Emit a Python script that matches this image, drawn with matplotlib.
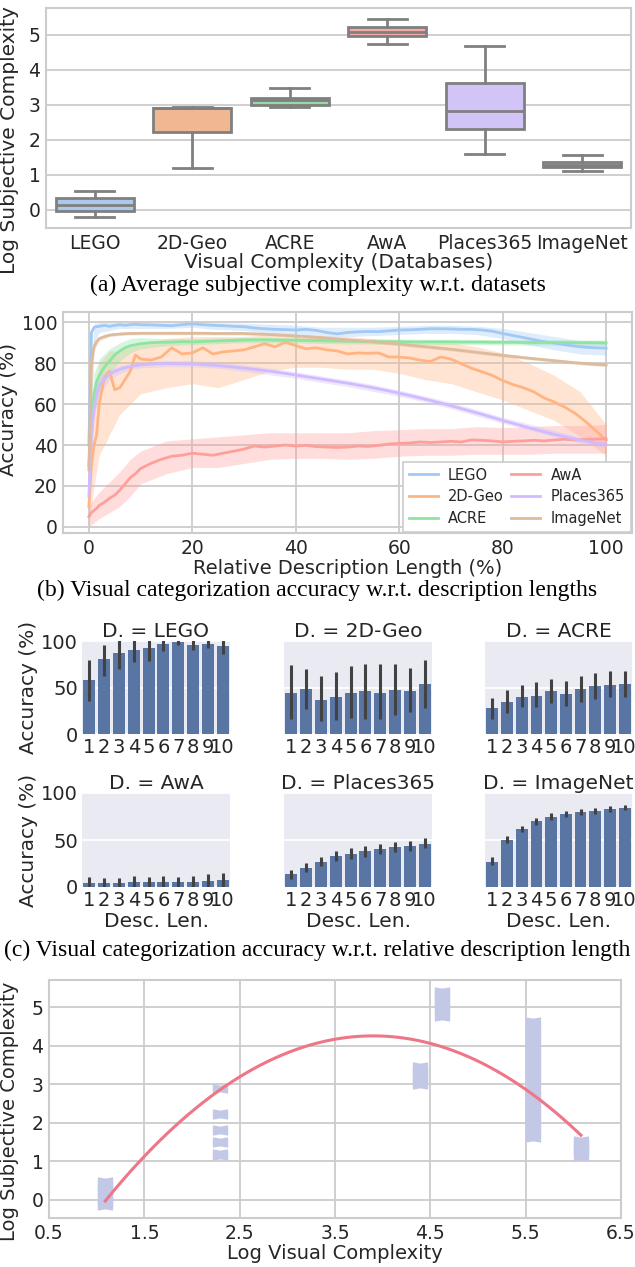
import numpy as np
import matplotlib
matplotlib.use("Agg")
import matplotlib.pyplot as plt
import seaborn as sns
from matplotlib.path import Path

# ---------------------------------------------------------------- data
datasets = ["LEGO", "2D-Geo", "ACRE", "AwA", "Places365", "ImageNet"]

# (a) box statistics of log subjective complexity per dataset
box_whislo = [-0.20, 1.19, 2.95, 4.75, 1.60, 1.11]
box_q1 = [-0.02, 2.22, 3.00, 4.98, 2.31, 1.21]
box_med = [0.14, 2.90, 3.14, 5.07, 2.83, 1.29]
box_q3 = [0.33, 2.92, 3.20, 5.23, 3.63, 1.37]
box_whishi = [0.54, 2.95, 3.48, 5.46, 4.67, 1.56]

# (b) accuracy vs. relative description length
rel_len = [0, 0.5, 1, 1.5, 2, 3, 4, 5, 6, 7, 8, 9, 10, 12, 14, 16, 18, 20,
           22, 24, 26, 28, 30, 32, 34, 36, 38, 40, 42, 44, 46, 48, 50, 52,
           54, 56, 58, 60, 62, 64, 66, 68, 70, 72, 74, 76, 78, 80, 82, 84,
           86, 88, 90, 92, 94, 96, 98, 100]
acc_lego = [40, 95, 97.5, 97.8, 98, 98.5, 98, 98.5, 98.8, 98.5, 98.8, 99,
            98.8, 98.7, 98.5, 98.3, 98.8, 99.2, 98.8, 98.5, 98.3, 98, 97.8,
            97.2, 96.8, 96.5, 96.4, 96.2, 96.5, 96, 95, 94.3, 95, 95.3, 95.5,
            95.4, 95.8, 96.2, 96.3, 96.5, 96.8, 96.8, 96.7, 96.5, 96.5, 96.2,
            95.6, 94.5, 93.5, 92.5, 91.5, 90.5, 89.8, 89, 88.3, 87.8, 87.5,
            87.3]
acc_2dgeo = [10, 30, 40, 45, 60, 73, 76, 67, 68, 72, 76, 84, 82, 81.5, 83,
             87.5, 84.5, 85, 87.5, 84.5, 85.5, 86, 86.5, 88, 89.5, 88, 90.2,
             88.6, 87, 87.5, 86.5, 86, 84.5, 85, 84.8, 85, 83, 83, 82.5, 81.5,
             80.8, 83, 82, 79.7, 77.5, 75.8, 74, 71.5, 69.5, 68, 66, 63, 61,
             58.5, 55.5, 51.5, 47, 42.3]
acc_acre = [30, 55, 65, 71, 74, 78, 81, 84, 86, 87.5, 88.5, 89, 89.5, 90,
            90.2, 90.3, 90.5, 90.4, 90.6, 90.8, 91, 91.1, 91.3, 91.4, 91.4,
            91.3, 91.2, 91.2, 91.1, 91, 90.9, 90.8, 90.7, 90.6, 90.6, 90.5,
            90.5, 90.5, 90.4, 90.4, 90.4, 90.4, 90.4, 90.3, 90.3, 90.3, 90.2,
            90.2, 90.2, 90.1, 90.1, 90.1, 90.1, 90, 90, 90, 90, 89.9]
acc_awa = [5, 7, 8, 9, 10.5, 12, 14, 15.5, 18, 21, 24, 26, 28.5, 31, 33,
           34.5, 35, 36, 35.5, 35, 36, 37, 38, 39.5, 39, 39.5, 40, 39.5, 39.8,
           39.2, 39, 38.8, 39, 39.5, 39.3, 39.8, 40.5, 40.8, 41, 41.5, 41.2,
           41.5, 41.8, 41.5, 42.5, 42.3, 42, 41.5, 41.8, 42, 42.3, 42, 42.5,
           42.8, 42.5, 42.7, 42.9, 43]
acc_places = [15, 45, 58, 65, 69, 72.5, 74.5, 76, 77, 77.8, 78.3, 78.8,
              79.2, 79.6, 79.8, 79.8, 79.7, 79.6, 79.3, 79, 78.6, 78.1, 77.6,
              77, 76.4, 75.7, 75, 74.2, 73.4, 72.6, 71.8, 71, 70.2, 69.3,
              68.4, 67.4, 66.4, 65.3, 64.2, 63, 61.8, 60.5, 59.2, 57.8, 56.4,
              55, 53.5, 52, 50.6, 49.2, 47.8, 46.5, 45.2, 44, 42.9, 41.9, 41,
              40.3]
acc_imagenet = [28, 80, 88, 90.5, 92, 93, 93.7, 94, 94.2, 94.4, 94.5, 94.5,
                94.6, 94.6, 94.6, 94.6, 94.6, 94.6, 94.6, 94.5, 94.5, 94.5,
                94.5, 94.3, 94.1, 93.9, 93.6, 93.3, 93, 92.6, 92.2, 91.8, 91.4,
                91, 90.6, 90.2, 89.8, 89.3, 88.8, 88.3, 87.8, 87.3, 86.8, 86.2,
                85.6, 85, 84.4, 83.8, 83.3, 82.7, 82.2, 81.7, 81.2, 80.7, 80.2,
                79.8, 79.4, 79.1]

# confidence bands (lower / upper) on a coarser length grid
band_len = [0, 1, 2, 4, 6, 8, 10, 15, 20, 25, 30, 35, 40, 45, 50, 55, 60, 65,
            70, 75, 80, 85, 90, 95, 100]
lo_lego = [20, 90, 95, 96, 97, 97, 97, 97, 97.5, 96.5, 96, 94.5, 94, 93, 93,
           93.5, 94, 94.5, 94.5, 94, 92, 89, 86.5, 84.5, 84]
hi_lego = [60, 99.5, 99.8, 99.8, 99.8, 99.8, 99.8, 99.8, 100, 99.8, 99.5, 99,
           98.5, 97.5, 97.5, 97.5, 98, 98.5, 98.5, 98, 97, 95, 93, 91, 90.5]
lo_2dgeo = [0, 20, 35, 45, 55, 60, 65, 68, 70, 68, 72, 76, 78, 78, 77, 77,
            75, 72, 70, 66, 62, 57, 52, 44, 35]
hi_2dgeo = [30, 60, 80, 86, 86, 88, 89, 92, 93, 93, 93, 94, 94, 93.5, 93, 92,
            91, 90, 90, 88, 85, 80, 74, 66, 50]
lo_acre = [20, 55, 66, 75, 81, 85, 87, 88.5, 89, 89.5, 90, 90, 89.9, 89.6,
           89.4, 89.3, 89.2, 89.1, 89.1, 89, 88.9, 88.8, 88.8, 88.7, 88.6]
hi_acre = [40, 75, 82, 87, 90, 92, 92.5, 92, 92, 92.3, 92.6, 92.6, 92.5,
           92.2, 92, 91.9, 91.8, 91.7, 91.7, 91.6, 91.5, 91.4, 91.4, 91.3,
           91.3]
lo_awa = [0, 2, 4, 7, 10, 15, 21, 26, 29, 29, 31, 33, 33.5, 33.5, 33, 33.5,
          34.5, 35, 35, 35.5, 35.5, 35.5, 36, 36, 36]
hi_awa = [10, 14, 17, 22, 27, 33, 37, 42, 43, 44, 45, 46, 46, 46, 46, 47,
          47.5, 48, 48, 49, 48.5, 49, 49.5, 49.5, 50]
lo_places = [10, 53, 64, 72, 75, 76.8, 77.7, 78.3, 78.2, 77.5, 76, 74.3,
             72.6, 70.5, 68.6, 66.2, 63.8, 61, 57.8, 54.2, 50.6, 47.4, 44,
             40.8, 38.8]
hi_places = [20, 63, 74, 77, 79, 79.8, 80.7, 81.3, 81.2, 80.5, 79.2, 77.6,
             75.8, 73.7, 71.8, 69.5, 66.8, 64, 60.8, 57.3, 53.6, 50.4, 47.1,
             43.8, 41.8]
lo_imagenet = [20, 86, 91, 93, 93.5, 93.8, 93.9, 93.9, 93.9, 93.8, 93.8,
               93.3, 92.6, 91.6, 90.6, 89.6, 88.5, 87.2, 86, 84.5, 83, 81.7,
               80.4, 79.2, 78.3]
hi_imagenet = [36, 90, 93, 94.4, 94.9, 95.2, 95.3, 95.3, 95.3, 95.2, 95.2,
               94.7, 94, 93.2, 92.2, 91.2, 90.1, 88.8, 87.6, 86.1, 84.6, 83.3,
               82, 80.8, 79.9]

# (c) accuracy per description length bucket (mean, CI low, CI high)
desc_len = list(range(1, 11))
bar_mean = {
    "LEGO": [58.6, 80.7, 87, 90, 92.5, 96.4, 98.6, 95.7, 97.1, 94.6],
    "2D-Geo": [43.6, 48.6, 36.8, 40, 44.3, 45.7, 44.6, 47.5, 46, 54],
    "ACRE": [27.5, 34.3, 39.6, 41, 46, 42.9, 48.6, 51.4, 52.5, 53.6],
    "AwA": [4.6, 3.9, 4.3, 5.4, 5.4, 5.7, 5.4, 5.4, 6.4, 7.1],
    "Places365": [13.6, 20.7, 27, 33.2, 35, 37.9, 40.4, 42.1, 43.6, 46],
    "ImageNet": [27, 50.4, 61.8, 70, 75, 77.5, 79.6, 81, 82.5, 83.6],
}
bar_lo = {
    "LEGO": [35.7, 62, 70, 77, 79, 89, 96, 90, 93, 86],
    "2D-Geo": [15.7, 26.4, 14.3, 15, 16.8, 15.7, 15.7, 20, 24, 27.5],
    "ACRE": [15.7, 23, 28.6, 28.6, 33.6, 30, 34.6, 37.5, 39.3, 40],
    "AwA": [0, 0, 0, 0, 0, 0, 0, 0, 0, 0],
    "Places365": [8.9, 16.4, 22, 27.9, 29.6, 32, 35, 36.8, 38.6, 41.8],
    "ImageNet": [23.6, 46.4, 59, 66.4, 71.4, 74.3, 76.8, 77.9, 79.3, 81.4],
}
bar_hi = {
    "LEGO": [80, 96, 101, 101, 101, 101, 101, 101, 101, 101],
    "2D-Geo": [74, 70, 62, 66.8, 73.6, 75.7, 75.7, 75.7, 71.4, 80],
    "ACRE": [39, 47, 53, 55.7, 59.6, 56.8, 62.5, 65.4, 67.5, 67.9],
    "AwA": [10.7, 9.6, 10, 11.8, 11, 11.8, 11, 11.4, 13.6, 15.4],
    "Places365": [17.9, 25.4, 32, 38.6, 41, 43.6, 45.7, 47.5, 49.3, 51.8],
    "ImageNet": [31.4, 54.6, 65.4, 73.6, 79, 80.7, 83.2, 84.3, 85.7, 87.5],
}

# (d) log visual complexity vs. log subjective complexity
log_visual = [1.09, 2.29, 4.39, 4.62, 5.58, 6.08]
log_subjective = {
    "LEGO": [-0.16, -0.1, -0.04, 0.02, 0.08, 0.14, 0.2, 0.26, 0.32, 0.38,
             0.44, 0.5],
    "2D-Geo": [1.13, 1.18, 1.22, 1.47, 1.53, 1.79, 1.83, 2.2, 2.25, 2.88,
               2.91],
    "ACRE": [2.98, 3.04, 3.1, 3.16, 3.22, 3.28, 3.34, 3.4, 3.47],
    "AwA": [4.75, 4.82, 4.9, 4.97, 5.04, 5.1, 5.17, 5.24, 5.31, 5.37, 5.41],
    "Places365": [1.61, 1.7, 1.8, 1.9, 2.0, 2.1, 2.2, 2.3, 2.4, 2.5, 2.6,
                  2.7, 2.8, 2.9, 3.0, 3.1, 3.2, 3.3, 3.4, 3.5, 3.6, 3.7, 3.8,
                  3.9, 4.0, 4.1, 4.2, 4.3, 4.4, 4.5, 4.63],
    "ImageNet": [1.12, 1.18, 1.24, 1.3, 1.36, 1.42, 1.48, 1.56],
}
# quadratic trend (highest power first)
trend_coef = [-0.542, 4.228, -3.994]

captions = [
    "(a) Average subjective complexity w.r.t. datasets",
    "(b) Visual categorization accuracy w.r.t. description lengths",
    "(c) Visual categorization accuracy w.r.t. relative description length",
]

# ---------------------------------------------------------------- style
TXT = "0.15"
GRID = "0.8"
plt.rcParams.update({
    "font.family": ["DejaVu Sans"],
    "text.color": TXT,
    "axes.labelcolor": TXT,
    "xtick.color": TXT,
    "ytick.color": TXT,
    "xtick.major.size": 0,
    "ytick.major.size": 0,
    "xtick.major.pad": 4,
    "ytick.major.pad": 4,
})
pastel = sns.color_palette("pastel", 6)
deep_blue = sns.color_palette("deep")[0]

W, H = 635, 1267
fig = plt.figure(figsize=(W / 100, H / 100), dpi=100)


def px_axes(left, top, right, bottom):
    return fig.add_axes([left / W, 1 - bottom / H, (right - left) / W,
                         (bottom - top) / H])


def white_grid(ax, xgrid=True):
    ax.set_facecolor("white")
    ax.set_axisbelow(True)
    ax.grid(True, axis="y", color=GRID, lw=1.3)
    if xgrid:
        ax.grid(True, axis="x", color=GRID, lw=1.3)
    for s in ax.spines.values():
        s.set_color(GRID)
        s.set_linewidth(1.5)


def caption(y_px, text):
    fig.text(0.5, 1 - y_px / H, text, ha="center", va="center",
             family="Liberation Serif", fontsize=17, color="black")


# ---------------------------------------------------------------- (a)
ax = px_axes(46, 8, 631, 228)
white_grid(ax, xgrid=False)
stats = []
for i, name in enumerate(datasets):
    stats.append(dict(label=name, whislo=box_whislo[i], q1=box_q1[i],
                      med=box_med[i], q3=box_q3[i], whishi=box_whishi[i],
                      fliers=[]))
line_gray = "0.5"
bp = ax.bxp(stats, positions=range(6), widths=0.8, patch_artist=True,
            showfliers=False, capwidths=0.4,
            boxprops=dict(edgecolor=line_gray, linewidth=2),
            whiskerprops=dict(color=line_gray, linewidth=2),
            capprops=dict(color=line_gray, linewidth=2),
            medianprops=dict(color=line_gray, linewidth=2))
for patch, c in zip(bp["boxes"], pastel):
    patch.set_facecolor(sns.desaturate(c, 0.75))
ax.set_xlim(-0.5, 5.5)
ax.set_ylim(-0.52, 5.77)
ax.set_yticks(range(6))
ax.set_xticks(range(6))
ax.set_xticklabels(datasets)
ax.tick_params(labelsize=13.5)
ax.set_xlabel("Visual Complexity (Databases)", fontsize=14.5, labelpad=0)
ax.set_ylabel("Log Subjective Complexity", fontsize=14.5)
ax.yaxis.set_label_coords(-0.047, 0.40)
caption(285, captions[0])

# ---------------------------------------------------------------- (b)
ax = px_axes(63, 312, 632, 533)
white_grid(ax)
series = [
    ("LEGO", acc_lego, lo_lego, hi_lego),
    ("2D-Geo", acc_2dgeo, lo_2dgeo, hi_2dgeo),
    ("ACRE", acc_acre, lo_acre, hi_acre),
    ("AwA", acc_awa, lo_awa, hi_awa),
    ("Places365", acc_places, lo_places, hi_places),
    ("ImageNet", acc_imagenet, lo_imagenet, hi_imagenet),
]
for (name, mean, lo, hi), c in zip(series, pastel):
    ax.fill_between(band_len, lo, hi, color=c, alpha=0.35, lw=0)
handles = []
for (name, mean, lo, hi), c in zip(series, pastel):
    h, = ax.plot(rel_len, mean, color=c, lw=2, label=name)
    handles.append(h)
ax.set_xlim(-5, 105)
ax.set_ylim(-3, 105)
ax.set_xticks(range(0, 101, 20))
ax.set_yticks(range(0, 101, 20))
ax.tick_params(labelsize=13.5)
ax.set_xlabel("Relative Description Length (%)", fontsize=14, labelpad=1)
ax.set_ylabel("Accuracy (%)", fontsize=14.5)
ax.yaxis.set_label_coords(-0.079, 0.56)
leg = ax.legend(handles=handles, ncol=2, loc="lower right", fontsize=10.5,
                frameon=True, fancybox=False, borderaxespad=0.1,
                handlelength=2.0, handletextpad=0.7, columnspacing=0.5,
                labelspacing=0.45)
leg.get_frame().set_edgecolor(GRID)
leg.get_frame().set_linewidth(1.2)
leg.get_frame().set_alpha(1)
caption(590, captions[1])

# ---------------------------------------------------------------- (c)
cols = [(82, 230), (284, 432), (485, 632)]
rows = [(641, 734), (793, 887)]
bar_color = sns.desaturate(deep_blue, 0.75)
xpos = np.arange(len(desc_len))
for k, name in enumerate(datasets):
    r, cidx = divmod(k, 3)
    ax = px_axes(cols[cidx][0], rows[r][0], cols[cidx][1], rows[r][1])
    ax.set_facecolor("#EAEAF2")
    ax.set_axisbelow(True)
    ax.grid(True, axis="y", color="white", lw=1.3)
    for s in ax.spines.values():
        s.set_visible(False)
    ax.bar(xpos, bar_mean[name], width=0.8, color=bar_color, zorder=2)
    ax.vlines(xpos, bar_lo[name], bar_hi[name], color="0.26", lw=2.2,
              zorder=3)
    ax.set_xlim(-0.5, 9.5)
    ax.set_ylim(0, 100)
    ax.set_yticks([0, 50, 100])
    ax.set_xticks(xpos)
    ax.set_xticklabels([str(v) for v in desc_len])
    ax.tick_params(labelsize=14, pad=3)
    ax.set_title(f"D. = {name}", fontsize=14.5, pad=3)
    if cidx == 0:
        ax.set_ylabel("Accuracy (%)", fontsize=14.5, labelpad=2)
    else:
        ax.tick_params(labelleft=False)
    if r == 1:
        ax.set_xlabel("Desc. Len.", fontsize=14.5, labelpad=1)
caption(950, captions[2])

# ---------------------------------------------------------------- (d)
ax = px_axes(49, 980, 621, 1218)
white_grid(ax)
bowtie = Path([(-1, -0.55), (0, -0.38), (1, -0.55), (1, 0.55), (0, 0.38),
               (-1, 0.55), (-1, -0.55)],
              [Path.MOVETO] + [Path.LINETO] * 5 + [Path.CLOSEPOLY])
for xv, name in zip(log_visual, datasets):
    ys = log_subjective[name]
    ax.scatter([xv] * len(ys), ys, marker=bowtie, s=120, color="#C3C8E6",
               linewidths=0, zorder=2)
xfit = np.linspace(min(log_visual), max(log_visual), 200)
ax.plot(xfit, np.polyval(trend_coef, xfit), color="#EE7686", lw=2.2,
        zorder=3)
ax.set_xlim(0.5, 6.5)
ax.set_ylim(-0.47, 5.7)
ax.set_xticks([0.5, 1.5, 2.5, 3.5, 4.5, 5.5, 6.5])
ax.set_yticks(range(6))
ax.tick_params(labelsize=13.5)
ax.set_xlabel("Log Visual Complexity", fontsize=14, labelpad=1)
ax.set_ylabel("Log Subjective Complexity", fontsize=14)
ax.yaxis.set_label_coords(-0.052, 0.45)

fig.savefig("out.png", dpi=100)
